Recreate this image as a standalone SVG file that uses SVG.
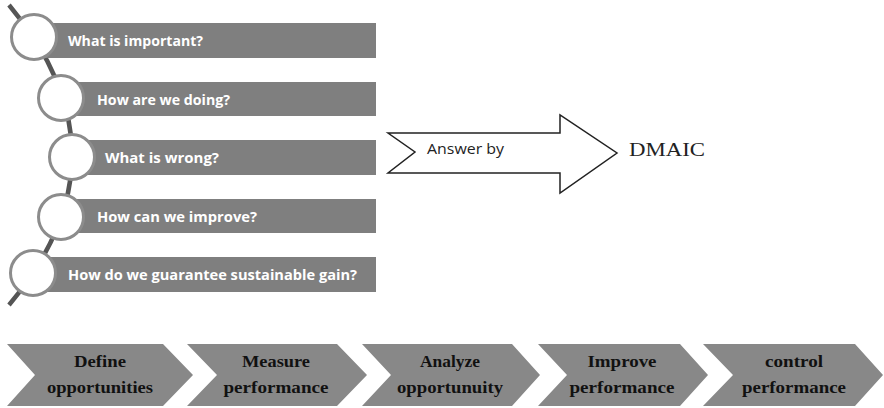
<svg xmlns="http://www.w3.org/2000/svg" width="884" height="408" viewBox="0 0 884 408">
  <style>
    .bar { fill: #7f7f7f; }
    .ring { fill: #ffffff; stroke: #8c8c8c; stroke-width: 3; }
    .q { font-family: "Open Sans", "Liberation Sans", sans-serif; font-weight: 700; font-size: 15px; fill: #ffffff; }
    .chev { fill: #888888; }
    .step { font-family: "Liberation Serif", "DejaVu Serif", serif; font-weight: 700; font-size: 17px; fill: #111111; text-anchor: middle; }
  </style>
  <rect width="884" height="408" fill="#ffffff"/>

  <!-- connectors: spine through the circles -->
  <g id="connectors">
    <path d="M 9 5 Q 135 155 9 305" fill="none" stroke="#555555" stroke-width="4.5"/>
  </g>

  <!-- question list -->
  <g id="q1">
    <rect class="bar" x="34" y="23" width="342" height="35"/>
    <circle class="ring" cx="34" cy="37" r="22.5"/>
    <text class="q" x="68" y="46" textLength="135" lengthAdjust="spacingAndGlyphs">What is important?</text>
  </g>
  <g id="q2">
    <rect class="bar" x="61" y="82" width="315" height="34"/>
    <circle class="ring" cx="61" cy="98" r="22.5"/>
    <text class="q" x="97" y="105" textLength="133" lengthAdjust="spacingAndGlyphs">How are we doing?</text>
  </g>
  <g id="q3">
    <rect class="bar" x="72" y="140" width="304" height="35"/>
    <circle class="ring" cx="72" cy="157" r="22.5"/>
    <text class="q" x="105" y="163" textLength="114" lengthAdjust="spacingAndGlyphs">What is wrong?</text>
  </g>
  <g id="q4">
    <rect class="bar" x="61" y="199" width="315" height="34"/>
    <circle class="ring" cx="61" cy="217" r="22.5"/>
    <text class="q" x="97" y="222" textLength="160" lengthAdjust="spacingAndGlyphs">How can we improve?</text>
  </g>
  <g id="q5">
    <rect class="bar" x="33" y="257" width="343" height="35"/>
    <circle class="ring" cx="33" cy="273" r="22.5"/>
    <text class="q" x="68" y="280" textLength="289" lengthAdjust="spacingAndGlyphs">How do we guarantee sustainable gain?</text>
  </g>

  <!-- notched arrow -->
  <g id="answer">
    <path d="M 388 133 L 560 133 L 560 115 L 617 153 L 560 193 L 560 173 L 388 173 L 415 152 Z" fill="#ffffff" stroke="#222222" stroke-width="1.5" stroke-linejoin="miter"/>
    <text x="427" y="154" font-family="Open Sans, Liberation Sans, sans-serif" font-size="14" fill="#222222" textLength="77" lengthAdjust="spacingAndGlyphs">Answer by</text>
  </g>
  <g id="dmaic">
    <text x="629" y="156" font-family="Liberation Serif, DejaVu Serif, serif" font-size="19" fill="#222222" textLength="76" lengthAdjust="spacingAndGlyphs">DMAIC</text>
  </g>

  <!-- process chevrons -->
  <g id="define">
    <path class="chev" d="M 7 344 L 163 344 L 193 375 L 163 406 L 7 406 L 35 375 Z"/>
    <text class="step" x="100" y="367" textLength="52" lengthAdjust="spacingAndGlyphs">Define</text>
    <text class="step" x="100" y="393" textLength="106" lengthAdjust="spacingAndGlyphs">opportunities</text>
  </g>
  <g id="measure">
    <path class="chev" d="M 187 344 L 337 344 L 367 375 L 337 406 L 187 406 L 217 375 Z"/>
    <text class="step" x="276" y="367" textLength="68" lengthAdjust="spacingAndGlyphs">Measure</text>
    <text class="step" x="276" y="393" textLength="105" lengthAdjust="spacingAndGlyphs">performance</text>
  </g>
  <g id="analyze">
    <path class="chev" d="M 362 344 L 512 344 L 540 375 L 512 406 L 362 406 L 391 375 Z"/>
    <text class="step" x="450" y="367" textLength="60" lengthAdjust="spacingAndGlyphs">Analyze</text>
    <text class="step" x="450" y="393" textLength="106" lengthAdjust="spacingAndGlyphs">opportunuity</text>
  </g>
  <g id="improve">
    <path class="chev" d="M 538 344 L 680 344 L 708 375 L 680 406 L 538 406 L 567 375 Z"/>
    <text class="step" x="622" y="367" textLength="69" lengthAdjust="spacingAndGlyphs">Improve</text>
    <text class="step" x="622" y="393" textLength="105" lengthAdjust="spacingAndGlyphs">performance</text>
  </g>
  <g id="control">
    <path class="chev" d="M 703 344 L 855 344 L 883 375 L 855 406 L 703 406 L 733 375 Z"/>
    <text class="step" x="794" y="367" textLength="58" lengthAdjust="spacingAndGlyphs">control</text>
    <text class="step" x="794" y="393" textLength="104" lengthAdjust="spacingAndGlyphs">performance</text>
  </g>
</svg>
